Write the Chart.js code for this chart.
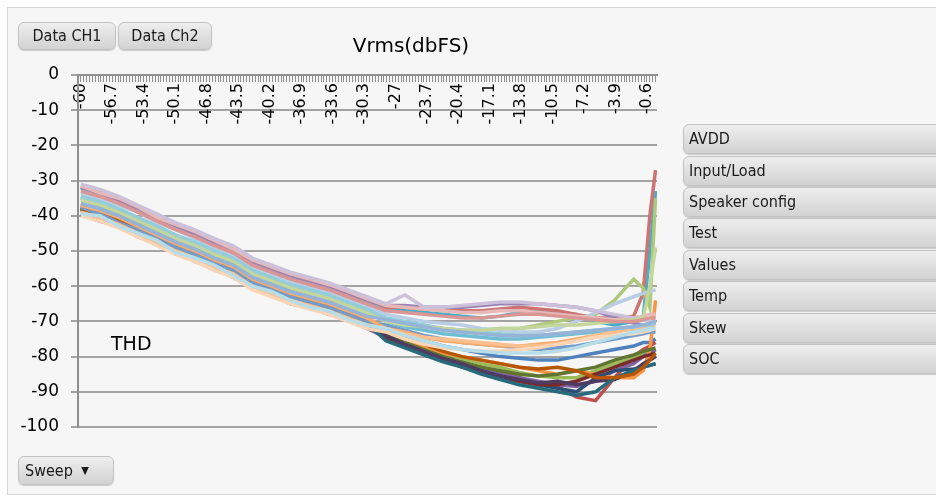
<!DOCTYPE html>
<html>
<head>
<meta charset="utf-8">
<script src="https://cdn.jsdelivr.net/npm/chart.js@4.4.1/dist/chart.umd.min.js"></script>
<style>
  body { margin: 0; background: #fff; }
  #wrap { position: relative; width: 936px; height: 504px; overflow: hidden; background: #fff; }
  #frame { position: absolute; left: 7px; top: 7px; width: 940px; height: 486px; background: #f6f6f6; border: 1px solid #d6d6d6; }
  canvas { position: absolute; left: 0; top: 0; }
  .btn { position: absolute; box-sizing: border-box; background: linear-gradient(#eeeeee, #d2d2d2); border: 1px solid #c2c2c2; border-radius: 6px;
         font: 16px "DejaVu Sans Condensed", "DejaVu Sans", sans-serif; color: #1a1a1a; box-shadow: 0 1px 1px rgba(0,0,0,0.18); white-space: nowrap; }
  .side { left: 683px; width: 280px; height: 30px; line-height: 28px; padding-left: 5px; border-radius: 6px 0 0 6px; }
  .txt { position: absolute; font-family: "DejaVu Sans", sans-serif; color: #000; white-space: nowrap; }
</style>
</head>
<body>
<div id="wrap">
  <div id="frame"></div>
  <canvas id="thd" width="936" height="504"></canvas>
  <div class="btn" style="left:18px;top:22px;width:98px;height:28px;line-height:26px;text-align:center;">Data CH1</div>
  <div class="btn" style="left:118px;top:22px;width:94px;height:28px;line-height:26px;text-align:center;">Data Ch2</div>
  <div class="txt" style="left:311px;top:33px;width:200px;text-align:center;font-size:20px;line-height:24px;">Vrms(dbFS)</div>
  <div class="txt" style="left:111px;top:332px;font-size:19px;line-height:22px;">THD</div>
  <div class="btn side" style="top:124px;">AVDD</div>
  <div class="btn side" style="top:156px;">Input/Load</div>
  <div class="btn side" style="top:187px;">Speaker config</div>
  <div class="btn side" style="top:218px;">Test</div>
  <div class="btn side" style="top:250px;">Values</div>
  <div class="btn side" style="top:281px;">Temp</div>
  <div class="btn side" style="top:313px;">Skew</div>
  <div class="btn side" style="top:344px;">SOC</div>
  <div class="btn" style="left:18px;top:456px;width:96px;height:29px;line-height:27px;padding-left:6px;">Sweep <span style="font-size:11px;position:relative;top:-2px;left:4px;">&#9660;</span></div>
</div>
<script>
// sweep points (dBFS) where each THD curve was read
const xValues = [-60, -58, -56, -54, -52, -50, -48, -46, -44, -42, -40, -38, -36, -34, -32, -30,
                 -28, -26, -24, -22, -20, -18, -16, -14, -12, -10, -8, -6, -4, -2, -1, -0.3, 0.3];

// x tick labels, one every 11 categories
const xTickLabels = ["-60", "-56.7", "-53.4", "-50.1", "-46.8", "-43.5", "-40.2", "-36.9", "-33.6", "-30.3",
                     "-27", "-23.7", "-20.4", "-17.1", "-13.8", "-10.5", "-7.2", "-3.9", "-0.6"];
const yTicks = [0, -10, -20, -30, -40, -50, -60, -70, -80, -90, -100];

// THD (dB) per sweep, dark runs first so the pale ones sit on top
const s01 = [-37, -39.5, -41, -43, -46.5, -48, -51, -53, -55.5, -58, -61, -62.5, -64.5, -65.5, -68, -69.5, -72, -74, -75.5, -77, -78, -79, -80, -80.5, -81, -81, -80, -79, -78, -77, -76, -76, -75];
const s02 = [-39.5, -40.5, -43, -45, -47, -50.5, -52, -54, -57, -60, -62.5, -64, -65.5, -67.5, -69, -71.5, -74, -76, -78, -80, -82, -83, -84.5, -86, -87.5, -88.5, -91.5, -92.5, -86, -80, -78, -77, -76];
const s03 = [-38, -40.5, -42, -44, -47.5, -49, -51.5, -54.5, -56, -59, -61.5, -64, -65, -66.5, -69, -70.5, -73, -75, -77, -79, -80.5, -82, -83, -84.5, -85.5, -86, -86, -84, -82, -80.5, -79, -79, -78];
const s04 = [-39.5, -41.5, -43, -46, -48, -50, -53, -55, -57.5, -60.5, -62, -65, -66, -68, -69.5, -72, -74.5, -76, -78.5, -80, -82, -83.5, -85, -86, -87, -88, -88.5, -87, -84, -82, -80, -79, -78];
const s05 = [-32, -34.5, -36, -38, -41.5, -43, -46, -47.5, -50.5, -53, -56, -57, -59.5, -60.5, -63, -64.5, -66.5, -67, -67.5, -68, -68.5, -69, -68.5, -67.5, -67, -67.5, -68, -70, -71, -70, -69, -50, -33];
const s06 = [-36.5, -38.5, -40, -42, -45.5, -47, -50, -52, -54.5, -57, -60, -61, -63.5, -64.5, -67, -68.5, -73, -75, -77, -79, -80, -81, -82, -83, -84, -85, -84, -85, -86, -86, -84, -78, -64];
const s07 = [-38.5, -39.5, -42, -44, -46.5, -49.5, -51, -53.5, -56, -59, -61, -63.5, -64.5, -66, -68.5, -70, -75, -77, -79, -81, -82.5, -84, -86, -87, -88, -89, -90, -86, -84, -83.5, -83, -82.5, -82];
const s08 = [-37.5, -39.5, -42, -44, -47, -49, -51, -54, -55.5, -59, -61.5, -63, -65, -66, -68, -70, -74.5, -77, -79, -81, -83, -84.5, -85.5, -87, -88, -88, -87, -85, -83, -81, -80, -79.5, -79];
const s09 = [-38, -39, -41.5, -44.5, -46.5, -48.5, -51.5, -53.5, -55.5, -59, -60.5, -63, -65, -66, -68, -70, -73.5, -76, -78, -80, -81.5, -83, -84, -85, -85.5, -85, -84, -83, -81, -79.5, -78.5, -78, -77.5];
const s10 = [-38, -39, -41, -43.5, -46, -48.5, -50, -53, -55.5, -58.5, -60.5, -62, -64, -66, -67.5, -69.5, -74, -76.5, -78.5, -80.5, -82, -84, -85.5, -86.5, -87.5, -87, -88, -87, -86.5, -84, -82, -81, -80];
const s11 = [-38, -40, -41.5, -44.5, -46.5, -49, -51.5, -53.5, -56, -59, -61.5, -63, -65, -66, -68, -70.5, -75.5, -77.5, -79.5, -81.5, -83, -85, -86.5, -88, -89, -90, -91, -90, -86, -84, -83, -82.5, -82];
const s12 = [-38, -39.5, -41.5, -44, -46.5, -49, -51, -53.5, -55.5, -59, -61, -63, -64.5, -66, -68, -70, -72.5, -74.5, -76.5, -78.5, -80, -81, -82, -83, -83.5, -83, -84, -86, -86, -85, -83, -81, -79];
const s13 = [-37.5, -39.5, -42, -44, -46.5, -49, -51, -53.5, -55.5, -59, -61, -63, -64.5, -66, -68, -70, -71, -72.5, -74, -75, -76, -76.5, -77, -77.5, -78, -77.5, -77, -76, -75, -74, -73.5, -73, -73];
const s14 = [-31.5, -33, -35.5, -37.5, -40, -42.5, -44.5, -47.5, -49, -52.5, -55, -56.5, -58, -60, -61.5, -63.5, -66, -66, -66.5, -66.5, -67, -67, -66.5, -66, -66.5, -67, -68, -69, -69, -68.5, -62, -40, -27];
const s15 = [-34.5, -36, -38.5, -40.5, -43, -45.5, -48, -50, -52, -55.5, -57.5, -60, -61, -62.5, -65, -66.5, -70, -71, -71.5, -72, -72.5, -72.5, -72, -72, -71, -70, -69, -68, -64, -58, -60.5, -66, -35];
const s16 = [-32, -33.5, -36, -38, -40.5, -43, -45, -47.5, -49.5, -53, -55, -57, -58.5, -60, -62, -64, -65.5, -65.5, -66, -66, -66, -65.5, -65, -65, -65, -65.5, -66, -67, -69, -70.5, -71, -71, -70.5];
const s17 = [-35, -37.5, -39, -41, -44.5, -46, -48.5, -51.5, -53, -56, -59, -60.5, -62, -63.5, -65, -67.5, -70, -71.5, -72.5, -73.5, -74, -74.5, -75, -75, -74.5, -74, -73.5, -73, -72.5, -72, -72, -71, -70];
const s18 = [-37, -38.5, -40.5, -43, -45.5, -48, -50, -52.5, -54.5, -58, -60, -62, -63.5, -65, -67, -69, -72, -73, -74.5, -75.5, -76, -76.5, -77, -77, -76.5, -76, -75, -74, -73, -72, -71.5, -70.5, -70];
const s19 = [-33.5, -35.5, -37, -39, -42, -44, -46.5, -49.5, -51, -54.5, -56.5, -58.5, -60.5, -61.5, -63.5, -65.5, -68, -69, -70, -70.5, -71, -72, -72.5, -73, -73, -72, -70, -67.5, -65, -63, -62, -61.5, -61];
const s20 = [-31.5, -33.5, -35, -37.5, -40.5, -42.5, -44.5, -47, -49.5, -52.5, -54.5, -56.5, -58, -59.5, -61.5, -63.5, -65.5, -66, -66.5, -67, -67.5, -67.5, -67, -67, -67.5, -68, -68.5, -69, -69.5, -69, -68.5, -68, -68];
const s21 = [-31, -32.5, -34.5, -37, -39.5, -42, -44, -46.5, -48.5, -52, -54, -56, -57.5, -59, -61, -63, -65, -62.5, -66, -66, -65.5, -65, -64.5, -64.5, -65, -65.5, -66, -67, -68, -69, -69.5, -70, -70];
const s22 = [-39, -40.5, -42.5, -45, -47.5, -50, -52, -54.5, -56.5, -60, -62, -64, -65.5, -67, -69, -71, -72, -73.5, -74.5, -75, -75.5, -76, -76.5, -77, -77, -76.5, -75.5, -74, -73, -72, -71.5, -71, -71];
const s23 = [-34.5, -36, -38, -40.5, -43, -45.5, -47.5, -50, -52, -55.5, -57.5, -59.5, -61, -62.5, -64.5, -66.5, -69, -70, -71, -72, -72.5, -73, -73.5, -74, -74, -73.5, -73, -72.5, -72, -71.5, -71, -71, -70.5];
const s24 = [-35.5, -37, -39, -41.5, -44, -46.5, -48.5, -51, -53, -56.5, -58.5, -60.5, -62, -63.5, -65.5, -67.5, -70, -71, -71.5, -72, -72.5, -72.5, -72, -72, -71.5, -71, -71, -70.5, -70, -69.5, -69, -60, -49];
const s25 = [-40, -41.5, -43.5, -46, -48.5, -51, -53, -55.5, -57.5, -61, -63, -65, -66.5, -68, -70, -72, -73, -75, -76.5, -77.5, -78, -78.5, -78.5, -78, -77.5, -76.5, -75.5, -74.5, -74, -73.5, -73, -72.5, -72];
const s26 = [-39.5, -40, -43, -45, -47, -50.5, -52, -54, -57, -60, -61.5, -64, -66, -67, -69.5, -71, -72, -74, -75.5, -77, -78, -78.5, -79, -79, -79, -78.5, -77.5, -76, -74.5, -73, -72.5, -72, -72];
const s27 = [-36.5, -38, -40, -42.5, -45, -47.5, -49.5, -52, -54, -57.5, -59.5, -61.5, -63, -64.5, -66.5, -68.5, -69.5, -70.5, -71.5, -72.5, -73, -73.5, -74, -74, -74, -73.5, -73, -72.5, -72, -71.5, -71, -70.5, -70];
const s28 = [-33, -34.5, -36.5, -39, -41.5, -44, -46, -48.5, -50.5, -54, -56, -58, -59.5, -61, -63, -65, -67, -67.5, -68, -68.5, -69, -69, -68.5, -68, -68, -68.5, -69, -69.5, -70, -70, -69.5, -69, -69];

const seriesValues = [s01, s02, s03, s04, s05, s06, s07, s08, s09, s10, s11, s12, s13, s14,
                      s15, s16, s17, s18, s19, s20, s21, s22, s23, s24, s25, s26, s27, s28];
const seriesColors = ["#4F81BD", "#C0504D", "#9BBB59", "#8064A2", "#4BACC6", "#F79646", "#2C4D75",
                      "#772C2A", "#5F7530", "#4D3B62", "#276A7C", "#B65708", "#729ACA", "#CD7371",
                      "#AFC97A", "#9983B5", "#6FBDD1", "#F9AB6B", "#B9CDE5", "#E6B9B8", "#CCC1DA",
                      "#FAC090", "#93CDDD", "#C3D69B", "#FCD5B5", "#B7DEE8", "#95B3D7", "#D99694"];

// one minor tick per 0.3 dB category
const xMinorTicks = [];
for (let k = 0; k <= 201; k++) xMinorTicks.push(Math.round((-60 + 0.3 * k) * 10) / 10);

const datasets = seriesValues.map((vals, i) => ({
    label: "Sweep " + (i + 1),
    data: xValues.map((x, j) => ({ x: x, y: vals[j] })),
    borderColor: seriesColors[i],
    backgroundColor: seriesColors[i],
    borderWidth: 3.5,
    pointRadius: 0,
    tension: 0,
    fill: false,
    order: seriesValues.length - i,
}));

const tickFont = { family: "DejaVu Sans", size: 16 };

new Chart(document.getElementById("thd").getContext("2d"), {
    type: "line",
    data: { datasets: datasets },
    options: {
        responsive: false,
        animation: false,
        layout: { padding: { top: 75, right: 279, bottom: 77, left: 0 } },
        plugins: {
            legend: { display: false },
            tooltip: { enabled: false },
            title: { display: false },
        },
        scales: {
            x: {
                type: "linear",
                position: { y: 0 },
                min: -60.3,
                max: 0.45,
                afterBuildTicks: (axis) => {
                    axis.ticks = xMinorTicks.map((v) => ({ value: v }));
                },
                ticks: {
                    autoSkip: false,
                    minRotation: 90,
                    maxRotation: 90,
                    padding: 2,
                    color: "#000",
                    font: tickFont,
                    callback: (value, index) => (index % 11 === 0 && index / 11 < xTickLabels.length ? xTickLabels[index / 11] : ""),
                },
                grid: { drawOnChartArea: false, drawTicks: true, tickLength: 6, color: "#8f8f8f", lineWidth: 1 },
                border: { color: "#8f8f8f", width: 2 },
            },
            y: {
                min: -100,
                max: 0,
                afterBuildTicks: (axis) => {
                    axis.ticks = yTicks.map((v) => ({ value: v }));
                },
                afterFit: (s) => { s.width = 78; },
                ticks: { padding: 12, color: "#000", font: { family: "DejaVu Sans", size: 17 } },
                grid: { color: "#a3a3a3", lineWidth: 2, tickLength: 7 },
                border: { color: "#8f8f8f", width: 2 },
            },
        },
    },
});
</script>
</body>
</html>
